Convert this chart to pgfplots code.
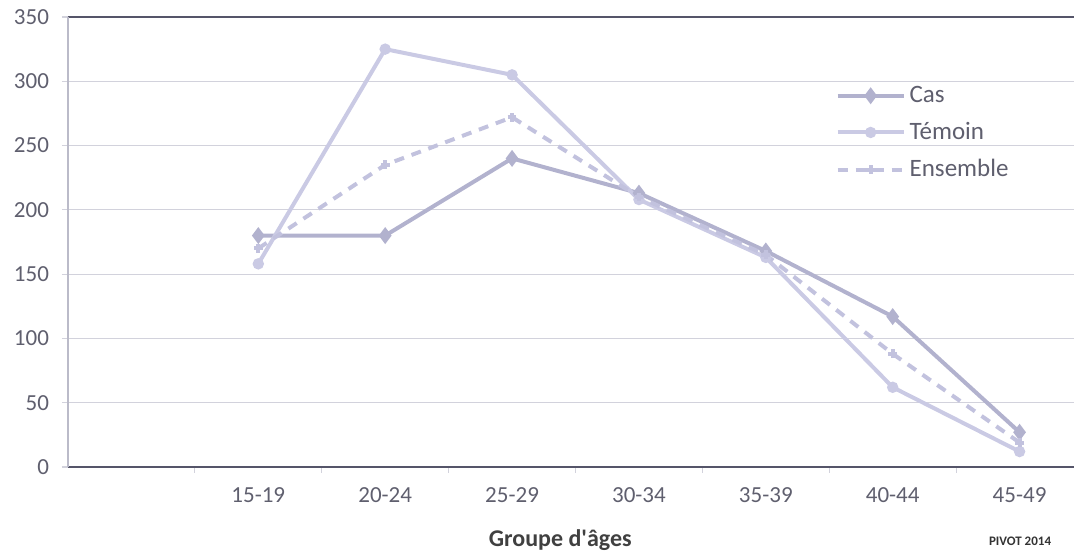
\documentclass[border=0pt]{standalone}
\usepackage{fontspec}
\setmainfont{Carlito}
\usepackage{pgfplots}
\pgfplotsset{compat=1.18}

\definecolor{txt}{RGB}{95,95,110}
\definecolor{gridc}{RGB}{210,210,220}
\definecolor{frame}{RGB}{85,85,105}
\definecolor{cas}{RGB}{178,178,206}
\definecolor{temoin}{RGB}{202,202,228}
\definecolor{ens}{RGB}{194,194,222}

\begin{document}
\begin{tikzpicture}
\begin{axis}[
  scale only axis,
  width=507.5pt, height=225pt,
  xmin=-0.5, xmax=7.5,
  ymin=0, ymax=350,
  ytick={0,50,...,350},
  xtick={1,...,7},
  xticklabels={15-19,20-24,25-29,30-34,35-39,40-44,45-49},
  minor xtick={0.5,1.5,...,6.5},
  major x tick style={draw=none},
  minor tick length=3pt,
  major tick length=3pt,
  tick align=outside,
  xtick pos=bottom, ytick pos=left,
  tick style={gridc, line width=0.6pt},
  ymajorgrids,
  major grid style={gridc, line width=0.6pt},
  axis line style={draw=none},
  tick label style={text=txt, font=\fontsize{11.5}{13}\selectfont},
  /pgf/number format/assume math mode=true,
  x tick label style={yshift=-4pt},
  y tick label style={xshift=-3pt},
  xlabel={\bfseries Groupe d\textquotesingle âges},
  xlabel style={at={(axis description cs:0.485,-0.162)}, anchor=center,
    text=black!75, font=\fontsize{12}{14}\selectfont},
  legend style={at={(axis description cs:0.75,0.865)}, anchor=north west,
    draw=none, fill=none, font=\fontsize{12.5}{15}\selectfont, text=txt,
    row sep=4.5pt},
  legend cell align=left,
  legend image code/.code={
    \draw[mark repeat=2, mark phase=2, #1]
      plot coordinates {(0pt,0pt) (16.5pt,0pt) (33pt,0pt)};
  },
  clip=false,
]
% top and bottom frame lines, left edge
\draw[frame, line width=1.4pt] (axis cs:-0.5,350) -- (axis cs:7.5,350);
\draw[frame, line width=1.4pt] (axis cs:-0.5,0) -- (axis cs:7.5,0);
\draw[cas!80!black!60, line width=1pt] (axis cs:-0.5,0) -- (axis cs:-0.5,350);

\addplot[cas, line width=2pt, mark=diamond*, mark size=2.6pt,
  mark options={solid, fill=cas}] coordinates {
  (1,180) (2,180) (3,240) (4,213) (5,168) (6,117) (7,27)
};
\addplot[temoin, line width=2pt, mark=*, mark size=1.8pt,
  mark options={solid, fill=temoin}] coordinates {
  (1,158) (2,325) (3,305) (4,208) (5,163) (6,62) (7,12)
};
\addplot[ens, line width=2pt, dash pattern=on 5pt off 4pt, mark=+, mark size=2.2pt,
  mark options={solid}] coordinates {
  (1,170) (2,235) (3,272) (4,210) (5,165) (6,88) (7,19)
};
\legend{Cas,Témoin,Ensemble}

\node[anchor=center, text=black!80, font=\bfseries\fontsize{6.5}{7}\selectfont]
  at (axis description cs:0.938,-0.165) {PIVOT 2014};
\end{axis}
\pgfresetboundingbox
\path[use as bounding box] ([xshift=-34pt, yshift=-43.5pt]current axis.south west)
  rectangle ([xshift=-4.5pt, yshift=8.5pt]current axis.north east);
\end{tikzpicture}
\end{document}
